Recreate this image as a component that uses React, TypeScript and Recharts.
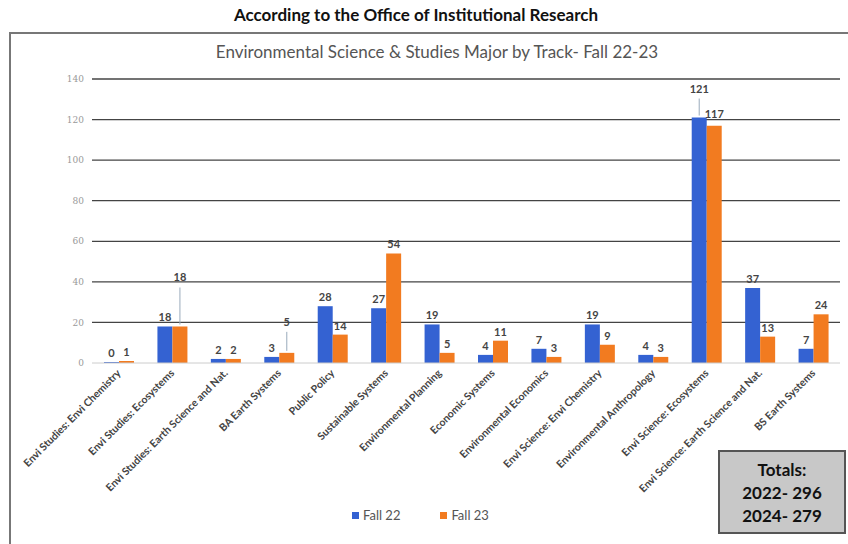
import { Bar, BarChart, CartesianGrid, LabelList, XAxis, YAxis } from "recharts";

const categories = [
  "Envi Studies: Envi Chemistry",
  "Envi Studies: Ecosystems",
  "Envi Studies: Earth Science and Nat.",
  "BA Earth Systems",
  "Public Policy",
  "Sustainable Systems",
  "Environmental Planning",
  "Economic Systems",
  "Environmental Economics",
  "Envi Science: Envi Chemistry",
  "Environmental Anthropology",
  "Envi Science: Ecosystems",
  "Envi Science: Earth Science and Nat.",
  "BS Earth Systems",
];
const fall22 = [0, 18, 2, 3, 28, 27, 19, 4, 7, 19, 4, 121, 37, 7];
const fall23 = [1, 18, 2, 5, 14, 54, 5, 11, 3, 9, 3, 117, 13, 24];
const yTicks = [0, 20, 40, 60, 80, 100, 120, 140];
const totals = ["Totals:", "2022- 296", "2024- 279"];

const BLUE = "#3462d2";
const ORANGE = "#f27b20";
const FONT = "Lato, 'Open Sans', sans-serif";

const data = categories.map((name, i) => ({ name, fall22: fall22[i], fall23: fall23[i] }));

// labels that Excel pushed up with a leader line
const lift22: Record<number, number> = { 11: 20 };
const lift23: Record<number, number> = { 1: 40, 3: 22, 11: 3 };

function makeLabel(lift: Record<number, number>) {
  return (props: any) => {
    const { x, y, width, value, index } = props;
    const cx = x + width / 2;
    const up = lift[index] ?? 0;
    return (
      <g>
        {up > 5 && <line x1={cx} x2={cx} y1={y - 2} y2={y - up + 1} stroke="#9ab" strokeWidth={1} />}
        <text x={cx} y={y - 5 - up} textAnchor="middle" fontSize={11} fontWeight={700} fill="#444" fontFamily={FONT}>
          {value}
        </text>
      </g>
    );
  };
}

function XTick(props: any) {
  const { x, y, payload } = props;
  return (
    <g transform={`translate(${x},${y})`}>
      <text x={0} y={0} dy={4} textAnchor="end" transform="rotate(-45)" fontSize={10.5} fontWeight={700} fill="#444" fontFamily={FONT}>
        {payload.value}
      </text>
    </g>
  );
}

export default function App() {
  return (
    <div style={{ position: "absolute", left: 0, top: 0, width: 848, height: 544, background: "#fff", overflow: "hidden", fontFamily: FONT }}>
      <div style={{ position: "absolute", left: 0, width: 832, top: 4, textAlign: "center", fontSize: 17, fontWeight: 700, color: "#111" }}>
        According to the Office of Institutional Research
      </div>
      <div style={{ position: "absolute", left: 9, top: 32, width: 860, height: 540, borderLeft: "2px solid #777", borderTop: "2px solid #777" }} />
      <div style={{ position: "absolute", left: 0, width: 874, top: 41, textAlign: "center", fontSize: 17, color: "#555" }}>
        Environmental Science &amp; Studies Major by Track- Fall 22-23
      </div>
      <div style={{ position: "absolute", left: 0, top: 0 }}>
        <BarChart width={848} height={544} data={data} margin={{ top: 79, right: 8, left: 0, bottom: 0 }} barGap={0} barSize={15}>
          <CartesianGrid horizontal vertical={false} stroke="#444" strokeWidth={1.3} horizontalValues={[20, 40, 60, 80, 100, 120, 140]} />
          <XAxis dataKey="name" interval={0} height={181} tick={<XTick />} tickLine={false} axisLine={{ stroke: "#ccc" }} tickSize={6} tickMargin={2} />
          <YAxis width={92} domain={[0, 140]} ticks={yTicks} axisLine={false} tickLine={false} tick={{ fontSize: 9, fill: "#999", fontFamily: "'DejaVu Serif', serif" }} />
          <Bar dataKey="fall22" fill={BLUE} minPointSize={1} isAnimationActive={false}>
            <LabelList dataKey="fall22" content={makeLabel(lift22)} />
          </Bar>
          <Bar dataKey="fall23" fill={ORANGE} minPointSize={1} isAnimationActive={false}>
            <LabelList dataKey="fall23" content={makeLabel(lift23)} />
          </Bar>
        </BarChart>
      </div>
      <div style={{ position: "absolute", left: 352, top: 507, display: "flex", gap: 40, fontSize: 13, color: "#555" }}>
        <span style={{ display: "flex", alignItems: "center", gap: 4 }}>
          <span style={{ width: 7, height: 7, background: BLUE, display: "inline-block" }} />Fall 22
        </span>
        <span style={{ display: "flex", alignItems: "center", gap: 4 }}>
          <span style={{ width: 7, height: 7, background: ORANGE, display: "inline-block" }} />Fall 23
        </span>
      </div>
      <div style={{ position: "absolute", left: 718, top: 450, width: 124, height: 80, background: "#c8c8c8", border: "2px solid #555", display: "flex", flexDirection: "column", alignItems: "center", justifyContent: "center", fontSize: 17, fontWeight: 700, color: "#111", lineHeight: "23px" }}>
        {totals.map((t) => (
          <div key={t}>{t}</div>
        ))}
      </div>
    </div>
  );
}
